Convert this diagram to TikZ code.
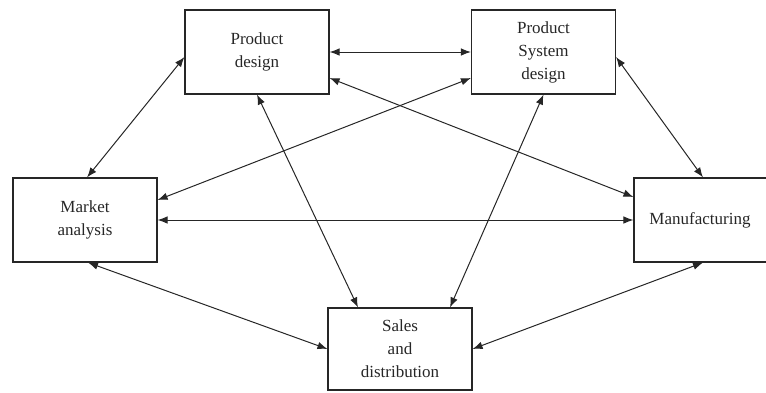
\documentclass[tikz,border=0pt]{standalone}
\usepackage{fontspec}
\setmainfont{Liberation Serif}
\usetikzlibrary{arrows.meta, positioning}

\tikzset{
    blockbox/.style={draw=black!85, line width=1.1pt, minimum width=144pt,
        minimum height=84pt, inner sep=0pt, align=center, text=black!85,
        font=\fontsize{17}{23}\selectfont},
    link/.style={line width=1pt, draw=black!85,
        {Latex[length=10pt,width=7.5pt]}-{Latex[length=10pt,width=7.5pt]}}
}

\begin{document}
\begin{tikzpicture}[x=1pt, y=-1pt]
    \useasboundingbox (0,0) rectangle (766,392);

    \node[blockbox] (pd) at (257,52) {Product\\design};
    \node[blockbox] (psd) at (543.5,52) {Product\\System\\design};
    \node[blockbox] (ma) at (85,220) {Market\\analysis};
    \node[blockbox, minimum width=152pt] (mf) at (710,220) {\hspace*{-20pt}Manufacturing};
    \node[blockbox, minimum height=82pt] (sd) at (400,349) {Sales\\and\\distribution};

    \draw[link] ([yshift=-5pt]pd.west) -- ([xshift=2pt]ma.north);
    \draw[link] (pd.east) -- (psd.west);
    \draw[link] ([yshift=-26pt]pd.east) -- ([yshift=23pt]mf.west);
    \draw[link] ([yshift=-26pt]psd.west) -- ([yshift=20pt]ma.east);
    \draw[link] (ma.east) -- (mf.west);
    \draw[link] (pd.south) -- ([xshift=-42pt]sd.north);
    \draw[link] (psd.south) -- ([xshift=50pt]sd.north);
    \draw[link] ([yshift=-5pt]psd.east) -- ([xshift=-7pt]mf.north);
    \draw[link] ([xshift=3pt]ma.south) -- (sd.west);
    \draw[link] ([xshift=-7pt]mf.south) -- (sd.east);
\end{tikzpicture}
\end{document}
